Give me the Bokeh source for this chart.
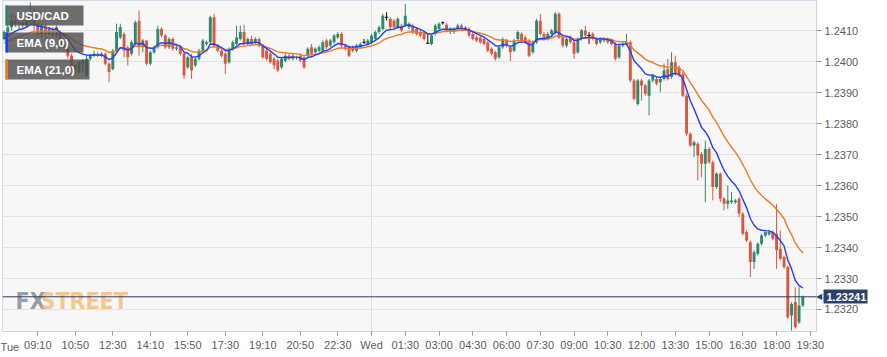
from bokeh.plotting import figure
from bokeh.models import (FixedTicker, Span, Label, BoxAnnotation, ColumnDataSource,
                          NumeralTickFormatter, Range1d, LinearAxis)
from bokeh.embed import file_html
from bokeh.resources import INLINE

# ---------------- data: USD/CAD 10-minute candles, Tue 07:40 -> Wed 19:10 ----------------
o = [1.24073,1.24095,1.24111,1.24132,1.24122,1.24127,1.24116,1.24132,1.24154,1.24122,
     1.24089,1.24116,1.24089,1.24105,1.24084,1.24095,1.24046,1.24057,1.24019,1.23987,
     1.23966,1.23993,1.23955,1.24009,1.24019,1.24025,1.24019,1.24025,1.23993,1.23976,
     1.24035,1.24078,1.24089,1.24046,1.24025,1.24057,1.24132,1.24046,1.24068,1.23993,
     1.24030,1.24046,1.24105,1.24084,1.24046,1.24073,1.24041,1.24046,1.24025,1.23982,
     1.24014,1.23987,1.24009,1.24035,1.24057,1.24062,1.24143,1.24052,1.24035,1.24025,
     1.23998,1.24041,1.24057,1.24073,1.24095,1.24057,1.24073,1.24062,1.24073,1.24052,
     1.24035,1.24025,1.24009,1.24003,1.23982,1.24003,1.24019,1.24009,1.24012,1.24019,
     1.24014,1.24019,1.24046,1.24030,1.24035,1.24035,1.24068,1.24052,1.24062,1.24078,
     1.24089,1.24052,1.24046,1.24035,1.24035,1.24046,1.24062,1.24057,1.24062,1.24073,
     1.24095,1.24105,1.24143,1.24138,1.24132,1.24111,1.24116,1.24116,1.24111,1.24116,
     1.24105,1.24095,1.24089,1.24059,1.24057,1.24089,1.24105,1.24125,1.24119,1.24095,
     1.24095,1.24105,1.24116,1.24105,1.24105,1.24089,1.24078,1.24078,1.24073,1.24062,
     1.24041,1.24030,1.24014,1.24046,1.24068,1.24046,1.24035,1.24073,1.24089,1.24078,
     1.24068,1.24030,1.24062,1.24132,1.24089,1.24073,1.24089,1.24095,1.24154,1.24078,
     1.24052,1.24078,1.24062,1.24030,1.24073,1.24100,1.24084,1.24089,1.24073,1.24062,
     1.24068,1.24073,1.24068,1.24057,1.24014,1.24052,1.24057,1.24062,1.23939,1.23863,
     1.23939,1.23923,1.23890,1.23939,1.23944,1.23933,1.23944,1.23976,1.23950,1.23998,
     1.23982,1.23960,1.23890,1.23767,1.23729,1.23735,1.23702,1.23670,1.23718,1.23675,
     1.23595,1.23638,1.23557,1.23541,1.23546,1.23546,1.23557,1.23509,1.23450,1.23417,
     1.23353,1.23380,1.23412,1.23439,1.23442,1.23450,1.23444,1.23396,1.23369,1.23337,
     1.23181,1.23224,1.23159,1.23213]
h = [1.24100,1.24122,1.24154,1.24148,1.24143,1.24132,1.24138,1.24191,1.24175,1.24127,
     1.24122,1.24122,1.24111,1.24111,1.24116,1.24100,1.24068,1.24062,1.24025,1.23993,
     1.24003,1.24009,1.24019,1.24025,1.24035,1.24030,1.24030,1.24030,1.23998,1.24041,
     1.24122,1.24122,1.24095,1.24052,1.24068,1.24132,1.24165,1.24073,1.24068,1.24035,
     1.24052,1.24116,1.24111,1.24089,1.24078,1.24078,1.24052,1.24052,1.24030,1.24019,
     1.24025,1.24014,1.24041,1.24073,1.24068,1.24148,1.24154,1.24057,1.24041,1.24030,
     1.24046,1.24068,1.24116,1.24116,1.24119,1.24078,1.24084,1.24078,1.24078,1.24057,
     1.24041,1.24030,1.24014,1.24009,1.24014,1.24025,1.24025,1.24025,1.24019,1.24025,
     1.24019,1.24046,1.24057,1.24046,1.24052,1.24068,1.24073,1.24073,1.24089,1.24095,
     1.24095,1.24057,1.24052,1.24052,1.24057,1.24062,1.24073,1.24073,1.24089,1.24100,
     1.24116,1.24154,1.24159,1.24143,1.24138,1.24143,1.24122,1.24186,1.24127,1.24122,
     1.24111,1.24100,1.24095,1.24089,1.24089,1.24122,1.24127,1.24129,1.24124,1.24111,
     1.24111,1.24122,1.24122,1.24113,1.24111,1.24095,1.24084,1.24084,1.24078,1.24068,
     1.24046,1.24035,1.24052,1.24078,1.24073,1.24052,1.24073,1.24100,1.24095,1.24084,
     1.24073,1.24068,1.24138,1.24154,1.24095,1.24095,1.24105,1.24159,1.24159,1.24084,
     1.24078,1.24084,1.24068,1.24078,1.24105,1.24116,1.24095,1.24095,1.24078,1.24078,
     1.24078,1.24078,1.24073,1.24062,1.24057,1.24062,1.24089,1.24068,1.23944,1.23944,
     1.23944,1.23928,1.23944,1.23960,1.23950,1.23950,1.23993,1.24009,1.24030,1.24019,
     1.23987,1.23966,1.23896,1.23772,1.23745,1.23740,1.23708,1.23745,1.23724,1.23681,
     1.23643,1.23643,1.23563,1.23600,1.23579,1.23557,1.23563,1.23514,1.23455,1.23423,
     1.23391,1.23417,1.23444,1.23455,1.23455,1.23455,1.23541,1.23455,1.23374,1.23342,
     1.23224,1.23272,1.23272,1.23245]
l = [1.24068,1.24089,1.24100,1.24111,1.24105,1.24105,1.24111,1.24122,1.24089,1.24084,
     1.24078,1.24078,1.24084,1.24078,1.24078,1.24041,1.24041,1.24009,1.23976,1.23960,
     1.23960,1.23966,1.23950,1.24003,1.24014,1.24014,1.24014,1.23987,1.23933,1.23971,
     1.24030,1.24073,1.24014,1.23987,1.24019,1.24052,1.24019,1.24030,1.23987,1.23987,
     1.24025,1.24041,1.24078,1.24041,1.24041,1.24035,1.24035,1.24019,1.23944,1.23976,
     1.23944,1.23982,1.24003,1.24030,1.24052,1.24057,1.24046,1.24030,1.24014,1.23960,
     1.23993,1.24035,1.24052,1.24068,1.24052,1.24052,1.24052,1.24057,1.24046,1.24009,
     1.24003,1.23993,1.23976,1.23966,1.23976,1.23998,1.24003,1.24003,1.24006,1.23998,
     1.23976,1.24014,1.24019,1.24025,1.24030,1.24030,1.24041,1.24046,1.24057,1.24073,
     1.24046,1.24035,1.24014,1.24030,1.24030,1.24041,1.24057,1.24052,1.24057,1.24068,
     1.24089,1.24100,1.24132,1.24105,1.24105,1.24105,1.24095,1.24111,1.24105,1.24089,
     1.24084,1.24078,1.24068,1.24057,1.24052,1.24084,1.24100,1.24119,1.24095,1.24089,
     1.24089,1.24100,1.24100,1.24100,1.24078,1.24068,1.24062,1.24057,1.24052,1.24030,
     1.24019,1.24003,1.24009,1.24041,1.24046,1.24001,1.24030,1.24068,1.24062,1.24057,
     1.24014,1.24025,1.24057,1.24084,1.24068,1.24068,1.24084,1.24089,1.24073,1.24046,
     1.24046,1.24057,1.24009,1.24025,1.24068,1.24078,1.24057,1.24068,1.24052,1.24057,
     1.24062,1.24057,1.24052,1.24003,1.24009,1.24046,1.24052,1.23933,1.23874,1.23858,
     1.23874,1.23890,1.23826,1.23933,1.23923,1.23901,1.23939,1.23939,1.23944,1.23955,
     1.23950,1.23885,1.23761,1.23724,1.23692,1.23616,1.23627,1.23546,1.23670,1.23552,
     1.23589,1.23546,1.23520,1.23525,1.23541,1.23541,1.23498,1.23439,1.23417,1.23304,
     1.23331,1.23374,1.23407,1.23433,1.23439,1.23423,1.23331,1.23358,1.23331,1.23170,
     1.23132,1.23138,1.23154,1.23208]
c = [1.24095,1.24111,1.24132,1.24122,1.24127,1.24116,1.24132,1.24154,1.24122,1.24089,
     1.24116,1.24089,1.24105,1.24084,1.24111,1.24046,1.24057,1.24019,1.23982,1.23966,
     1.23998,1.24003,1.24009,1.24019,1.24025,1.24019,1.24025,1.23993,1.23966,1.24035,
     1.24095,1.24111,1.24035,1.24014,1.24062,1.24127,1.24046,1.24068,1.23993,1.24030,
     1.24046,1.24105,1.24084,1.24046,1.24073,1.24041,1.24046,1.24025,1.23955,1.24014,
     1.23971,1.24009,1.24035,1.24068,1.24062,1.24143,1.24052,1.24035,1.24019,1.23993,
     1.24041,1.24062,1.24078,1.24095,1.24057,1.24073,1.24057,1.24073,1.24052,1.24014,
     1.24009,1.23998,1.23987,1.23971,1.24009,1.24019,1.24009,1.24019,1.24014,1.24003,
     1.23982,1.24041,1.24025,1.24041,1.24046,1.24062,1.24046,1.24068,1.24084,1.24089,
     1.24052,1.24041,1.24019,1.24046,1.24052,1.24057,1.24062,1.24068,1.24084,1.24095,
     1.24111,1.24148,1.24143,1.24111,1.24111,1.24138,1.24100,1.24148,1.24122,1.24095,
     1.24089,1.24084,1.24073,1.24059,1.24084,1.24116,1.24122,1.24125,1.24100,1.24105,
     1.24105,1.24116,1.24105,1.24105,1.24084,1.24073,1.24068,1.24062,1.24057,1.24035,
     1.24025,1.24009,1.24046,1.24073,1.24052,1.24030,1.24068,1.24095,1.24068,1.24062,
     1.24019,1.24062,1.24132,1.24089,1.24073,1.24089,1.24100,1.24154,1.24078,1.24052,
     1.24073,1.24062,1.24025,1.24073,1.24100,1.24084,1.24084,1.24073,1.24057,1.24073,
     1.24073,1.24062,1.24057,1.24009,1.24052,1.24057,1.24062,1.23939,1.23880,1.23939,
     1.23923,1.23896,1.23939,1.23955,1.23928,1.23944,1.23971,1.23944,1.23998,1.23960,
     1.23955,1.23890,1.23767,1.23729,1.23740,1.23697,1.23670,1.23718,1.23675,1.23595,
     1.23638,1.23557,1.23541,1.23552,1.23552,1.23552,1.23509,1.23444,1.23423,1.23353,
     1.23385,1.23412,1.23439,1.23450,1.23450,1.23428,1.23391,1.23364,1.23337,1.23175,
     1.23218,1.23143,1.23213,1.23241]

ema9_seed = 1.24068    # EMA(9) value at the left edge
ema21_seed = 1.24057   # EMA(21) value at the left edge

x_tick_idx = [9, 19, 29, 39, 49, 59, 69, 79, 89, 98, 107, 116, 125, 134, 143,
              152, 161, 170, 179, 188, 197, 206, 215]
x_tick_txt = ["09:10", "10:50", "12:30", "14:10", "15:50", "17:30", "19:10", "20:50",
              "22:30", "Wed", "01:30", "03:00", "04:30", "06:00", "07:30", "09:00",
              "10:30", "12:00", "13:30", "15:00", "16:30", "18:00", "19:30"]
first_day_pos = 1.5
first_day = "Tue"
day_break_idx = [98]
y_ticks = [1.2320, 1.2330, 1.2340, 1.2350, 1.2360, 1.2370, 1.2380, 1.2390, 1.2400, 1.2410]
symbol = "USD/CAD"
ema_names = ["EMA (9,0)", "EMA (21,0)"]


def ema(vals, n, seed):
    a = 2.0 / (n + 1)
    e = seed
    out = []
    for v in vals:
        e = e + a * (v - e)
        out.append(e)
    return out


n = len(c)
idx = list(range(n))
ema9 = ema(c, 9, ema9_seed)
ema21 = ema(c, 21, ema21_seed)

GREEN = "#2f8a6a"
RED = "#d9583f"
BLUE = "#1f3cff"
ORANGE = "#f07a22"
NAVY = "#2d4266"
cols, tops, bots = [], [], []
for oo, cc in zip(o, c):
    cols.append(GREEN if cc > oo else (RED if cc < oo else "#111111"))
    tops.append(max(oo, cc))
    bots.append(min(oo, cc))
src = ColumnDataSource(dict(x=idx, o=o, h=h, l=l, c=c, color=cols, top=tops, bottom=bots))
doji = [i for i in idx if o[i] == c[i]]
dsrc = ColumnDataSource(dict(x=doji, y=[o[i] for i in doji]))

X0, X1 = -0.413, 216.65
Y0, Y1 = 1.23129, 1.24197

p = figure(width=887, height=357, x_range=Range1d(X0, X1), y_range=Range1d(Y0, Y1),
           y_axis_location="right", output_backend="svg", toolbar_location=None,
           min_border_left=2, min_border_top=0, min_border_right=71, min_border_bottom=26)
p.background_fill_color = "#f7f7f7"
p.border_fill_color = "white"
p.outline_line_color = "#d3d9e6"

# reference-pixel helpers for decorations (frame: x 2..816, y 0..331)
def rx(px):
    return X0 + (px - 2) * (X1 - X0) / 814.0

def ry(py):
    return Y1 - py * (Y1 - Y0) / 331.0

FONT = "Liberation Sans"
xax = p.xaxis[0]
yax = p.yaxis[0]
for ax in (xax, yax):
    ax.axis_line_color = "#ccd3e3"
    ax.major_tick_line_color = "#8f96a3"
    ax.minor_tick_line_color = None
    ax.major_tick_in = 0
    ax.major_label_text_font = FONT
    ax.major_label_text_font_size = "11px"
    ax.major_label_text_color = "#5c5c5c"
xax.major_tick_out = 4
xax.major_label_standoff = 3
yax.major_tick_out = 5
yax.major_label_standoff = 3
xax.ticker = FixedTicker(ticks=x_tick_idx)
xax.major_label_overrides = {k: t for k, t in zip(x_tick_idx, x_tick_txt)}
yax.ticker = FixedTicker(ticks=y_ticks)
yax.formatter = NumeralTickFormatter(format="0.0000")
p.ygrid.grid_line_color = "#e3e3e3"
p.xgrid.ticker = FixedTicker(ticks=day_break_idx)
p.xgrid.grid_line_color = "#dcdcdc"

# day name at the start of the time scale: tick-less axis stacked under the main one,
# pulled back (negative standoff) so its label sits on the same line as the others
day_ax = LinearAxis(ticker=FixedTicker(ticks=[first_day_pos]),
                    major_label_overrides={first_day_pos: first_day},
                    axis_line_color=None, major_tick_line_color=None,
                    minor_tick_line_color=None, major_tick_out=0, major_tick_in=0,
                    major_label_standoff=-13, major_label_text_font=FONT,
                    major_label_text_font_size="11px", major_label_text_color="#5c5c5c")
p.add_layout(day_ax, "below")

# last-price tag: a second price axis with a single thick navy tick (reaching back to the
# frame) and the white value label pulled back over it
lc = c[-1]
tag_ax = LinearAxis(ticker=FixedTicker(ticks=[lc]),
                    formatter=NumeralTickFormatter(format="0.00000"),
                    axis_line_color=None, minor_tick_line_color=None,
                    major_tick_line_color=NAVY, major_tick_line_width=14,
                    major_tick_line_cap="butt", major_tick_in=38, major_tick_out=6,
                    major_label_standoff=-41, major_label_text_font=FONT,
                    major_label_text_font_style="bold", major_label_text_font_size="11px",
                    major_label_text_color="white")
p.add_layout(tag_ax, "right")
p.add_layout(Label(x=X1, y=lc, x_offset=-1, text="\u25c0", text_baseline="middle",
                   text_font_size="8px", text_color=NAVY), "right")

# watermark
p.add_layout(Label(x=rx(15), y=ry(313), text="FX", text_font="DejaVu Sans Condensed",
                   text_font_style="bold", text_font_size="23px", text_color="#8b919c",
                   text_alpha=0.9, level="underlay"))
p.add_layout(Label(x=rx(40), y=ry(313), text="STREET", text_font="DejaVu Sans Condensed",
                   text_font_style="bold", text_font_size="23px", text_color="#f2c184",
                   text_alpha=0.9, level="underlay"))

# candles
p.segment(x0="x", y0="l", x1="x", y1="h", line_color="color", line_width=1, source=src)
p.vbar(x="x", width=0.78, top="top", bottom="bottom", fill_color="color",
       line_color=None, source=src)
p.rect(x="x", y="y", width=0.9, height=1, height_units="screen", fill_color="#111111",
       line_color=None, source=dsrc)

# EMAs
p.line(idx, ema21, line_color=ORANGE, line_width=1.4)
p.line(idx, ema9, line_color=BLUE, line_width=1.4)

# last price line
p.add_layout(Span(location=lc, dimension="width", line_color="#2b3d5c", line_width=1))

# legend boxes
legend = [(symbol, GREEN, 5, 25, 83), (ema_names[0], BLUE, 32, 52, 83),
          (ema_names[1], ORANGE, 59, 79, 89)]
for txt, colr, t, b, r in legend:
    p.add_layout(BoxAnnotation(left=rx(5), right=rx(r), top=ry(t), bottom=ry(b),
                               fill_color="#4e4e4e", fill_alpha=0.82, line_color=None))
    p.add_layout(BoxAnnotation(left=rx(5), right=rx(7.5), top=ry(t), bottom=ry(b),
                               fill_color=colr, fill_alpha=1.0, line_color=None))
    p.add_layout(Label(x=rx(16), y=ry((t + b) / 2.0), text=txt, text_baseline="middle",
                       text_font=FONT, text_font_style="bold", text_font_size="11.5px",
                       text_color="white"))

open("out.html", "w").write(file_html(p, INLINE))
